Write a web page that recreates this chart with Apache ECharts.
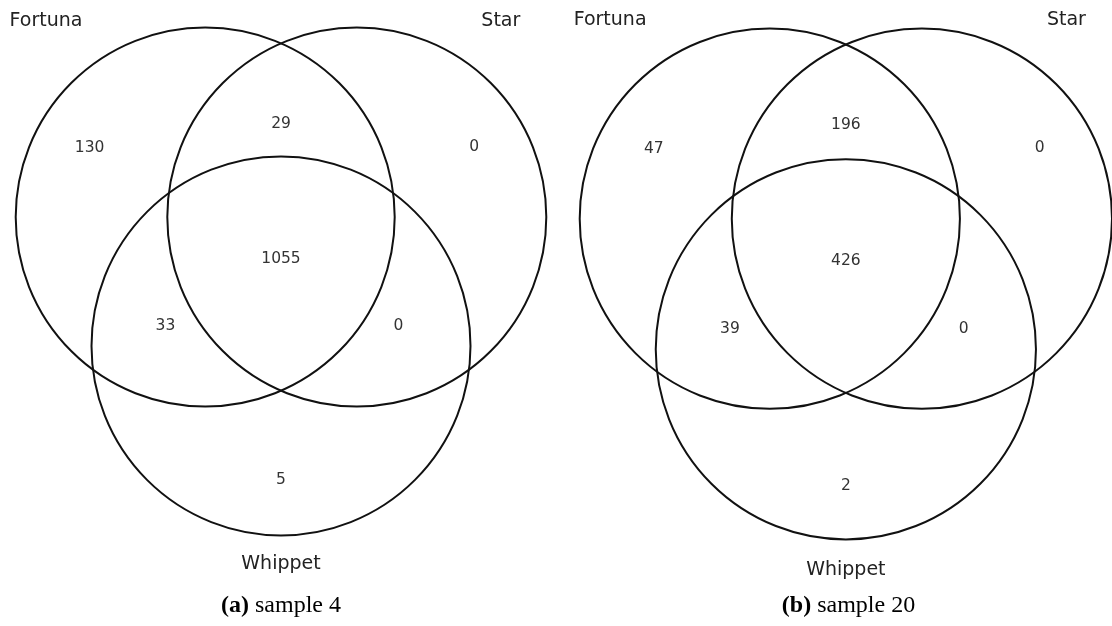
<!DOCTYPE html>
<html>
<head>
<meta charset="utf-8">
<script src="https://cdn.jsdelivr.net/npm/echarts@6/dist/echarts.min.js"></script>
<style>
html,body{margin:0;padding:0;background:#fff;}
#chart{width:1112px;height:626px;}
</style>
</head>
<body>
<div id="chart"></div>
<script>
// ---- data ----
var setNames = ['Fortuna', 'Star', 'Whippet'];
// region order: F only, S only, F&S, W only, F&W, S&W, F&S&W
var regionKeys = ['100', '010', '110', '001', '101', '011', '111'];
var sample4Counts = [130, 0, 29, 5, 33, 0, 1055];
var sample20Counts = [47, 0, 196, 2, 39, 0, 426];
var panelLabels = ['(a)', '(b)'];
var panelTitles = ['sample 4', 'sample 20'];

// ---- layout (unweighted venn, units of circle radius) ----
var circleCenters = [[-0.4, 0], [0.4, 0], [0, -0.68]];
var regionPos = {
  '100': [-1.01, 0.365], '010': [1.02, 0.368], '110': [0.0, 0.49],
  '001': [0, -1.39], '101': [-0.61, -0.575], '011': [0.62, -0.575], '111': [0, -0.22]
};
var namePos = [[-1.24, 1.035], [1.16, 1.035], [0, -1.83]];

var grids = [
  {left: 15.7, top: 27.5, width: 530.6, height: 507.9},
  {left: 579.7, top: 26.7, width: 537.6, height: 514.6}
];
var panels = [sample4Counts, sample20Counts];

var option = {
  animation: false,
  backgroundColor: '#ffffff',
  grid: grids.map(function (g) { return Object.assign({containLabel: false}, g); }),
  xAxis: grids.map(function (g, i) { return {type: 'value', gridIndex: i, min: -1.4, max: 1.4, show: false}; }),
  yAxis: grids.map(function (g, i) { return {type: 'value', gridIndex: i, min: -1.68, max: 1, show: false}; }),
  series: [],
  graphic: []
};

panels.forEach(function (counts, pi) {
  // circles
  option.series.push({
    type: 'custom', xAxisIndex: pi, yAxisIndex: pi, clip: false, silent: true,
    data: circleCenters.map(function (c) { return [c[0], c[1]]; }),
    renderItem: function (params, api) {
      var p = api.coord([api.value(0), api.value(1)]);
      var r = api.size([1, 1])[0];
      return {type: 'circle', shape: {cx: p[0], cy: p[1], r: r},
        style: {fill: 'none', stroke: '#111', lineWidth: 2}};
    }
  });
  // region counts
  option.series.push({
    type: 'custom', xAxisIndex: pi, yAxisIndex: pi, clip: false, silent: true,
    data: regionKeys.map(function (k, i) { return [regionPos[k][0], regionPos[k][1], counts[i]]; }),
    renderItem: function (params, api) {
      var p = api.coord([api.value(0), api.value(1)]);
      return {type: 'text', x: p[0], y: p[1],
        style: {text: String(api.value(2)), fill: '#333', font: '15.5px "DejaVu Sans"',
          align: 'center', verticalAlign: 'middle'}};
    }
  });
  // set names
  option.series.push({
    type: 'custom', xAxisIndex: pi, yAxisIndex: pi, clip: false, silent: true,
    data: setNames.map(function (n, i) { return [namePos[i][0], namePos[i][1]]; }),
    renderItem: function (params, api) {
      var p = api.coord([api.value(0), api.value(1)]);
      return {type: 'text', x: p[0], y: p[1],
        style: {text: setNames[params.dataIndex], fill: '#222', font: '19px "DejaVu Sans"',
          align: 'center', verticalAlign: 'middle'}};
    }
  });
  // caption
  var g = grids[pi];
  option.graphic.push({
    type: 'text', x: g.left + g.width / 2, y: 606,
    style: {
      text: '{b|' + panelLabels[pi] + '} ' + panelTitles[pi],
      align: 'center', verticalAlign: 'middle',
      font: '24px "Liberation Serif"', fill: '#000',
      rich: {b: {font: 'bold 24px "Liberation Serif"', fill: '#000'}}
    }
  });
});

var chart = echarts.init(document.getElementById('chart'), null, {renderer: 'canvas'});
chart.setOption(option);
</script>
</body>
</html>
